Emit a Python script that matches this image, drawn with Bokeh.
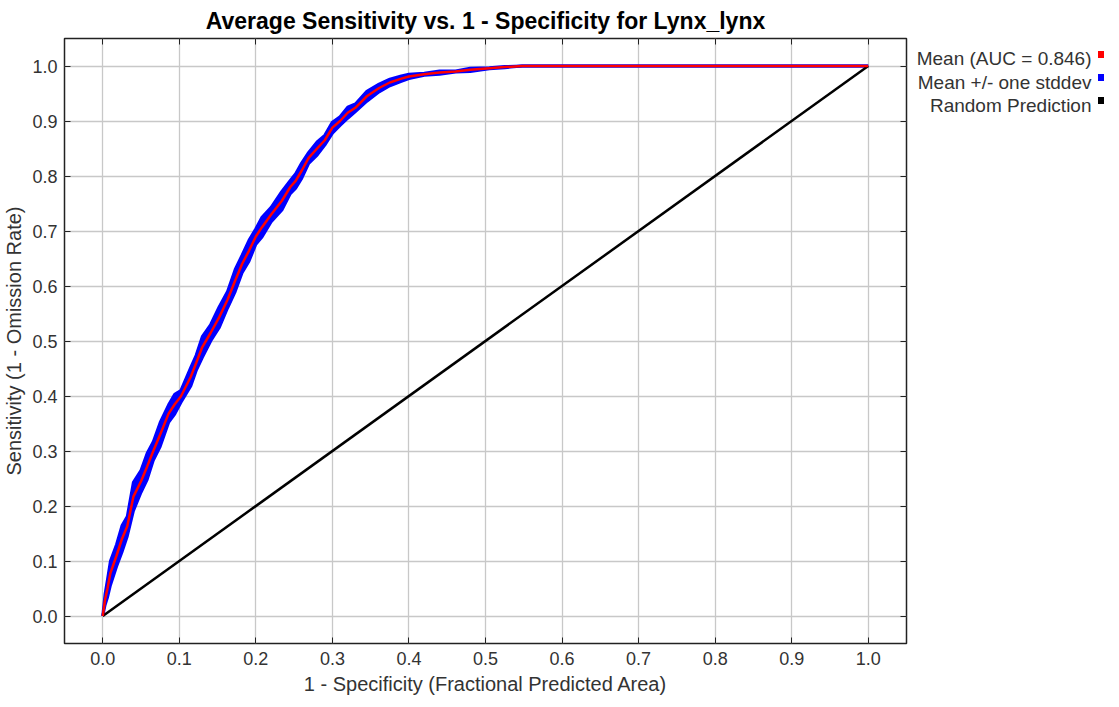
from bokeh.plotting import figure
from bokeh.models import Range1d, LinearAxis, FixedTicker, PrintfTickFormatter
from bokeh.layouts import row
from bokeh.embed import file_html
from bokeh.resources import INLINE
from bokeh.core.properties import value

# ---- data ----
fpr = [0.0, 0.003, 0.006, 0.010, 0.018, 0.025, 0.032, 0.040, 0.050, 0.058,
       0.066, 0.075, 0.086, 0.094, 0.102, 0.115, 0.122, 0.130, 0.141, 0.152,
       0.163, 0.173, 0.182, 0.191, 0.200, 0.208, 0.220, 0.234, 0.245, 0.252,
       0.260, 0.269, 0.280, 0.290, 0.300, 0.310, 0.320, 0.330, 0.345, 0.361,
       0.375, 0.390, 0.400, 0.420, 0.440, 0.461, 0.480, 0.505, 0.525, 0.548,
       0.600, 0.700, 0.800, 0.900, 1.000]
mean_tpr = [0.0, 0.030, 0.049, 0.078, 0.110, 0.140, 0.163, 0.217, 0.245, 0.272,
            0.300, 0.330, 0.368, 0.385, 0.399, 0.435, 0.460, 0.489, 0.515, 0.543,
            0.575, 0.610, 0.640, 0.664, 0.690, 0.707, 0.730, 0.755, 0.780, 0.791,
            0.810, 0.833, 0.850, 0.865, 0.888, 0.900, 0.915, 0.924, 0.945, 0.960,
            0.970, 0.977, 0.981, 0.985, 0.988, 0.990, 0.993, 0.996, 0.998, 1.000,
            1.000, 1.000, 1.000, 1.000, 1.000]
sd_tpr = [0.0, 0.010, 0.016, 0.022, 0.020, 0.024, 0.018, 0.026, 0.020, 0.024,
          0.017, 0.022, 0.016, 0.018, 0.011, 0.017, 0.014, 0.019, 0.015, 0.019,
          0.015, 0.020, 0.016, 0.019, 0.014, 0.018, 0.013, 0.017, 0.012, 0.013,
          0.014, 0.010, 0.012, 0.009, 0.010, 0.008, 0.010, 0.007, 0.009, 0.007,
          0.006, 0.005, 0.004, 0.002, 0.003, 0.001, 0.003, 0.001, 0.001, 0.0,
          0.0, 0.0, 0.0, 0.0, 0.0]
random_x = [0.0, 1.0]
random_y = [0.0, 1.0]
auc = 0.846
species = "Lynx_lynx"
ticks = [0.0, 0.1, 0.2, 0.3, 0.4, 0.5, 0.6, 0.7, 0.8, 0.9, 1.0]
legend_labels = ["Mean (AUC = %.3f)" % auc, "Mean +/- one stddev", "Random Prediction"]
legend_colors = ["#ff0000", "#0000ff", "#000000"]

upper = [m + s for m, s in zip(mean_tpr, sd_tpr)]
lower = [m - s for m, s in zip(mean_tpr, sd_tpr)]

FONT = "Liberation Sans"

p = figure(frame_width=842, frame_height=605,
           x_range=Range1d(-0.05, 1.05), y_range=Range1d(-0.05, 1.05),
           output_backend="svg", toolbar_location=None,
           min_border_left=60, min_border_top=30, min_border_right=2, min_border_bottom=0,
           title="Average Sensitivity vs. 1 - Specificity for " + species)
p.title.text_font = FONT
p.title.text_font_size = "23px"
p.title.text_font_style = "bold"
p.title.align = "center"
p.title.text_color = "#000000"
p.outline_line_color = "#222222"
p.outline_line_width = 1.5
p.background_fill_color = "white"
p.border_fill_color = "white"

for ax in (p.xaxis[0], p.yaxis[0]):
    ax.ticker = FixedTicker(ticks=ticks)
    ax.formatter = PrintfTickFormatter(format="%.1f")
    ax.major_label_text_font = FONT
    ax.major_label_text_font_size = "18px"
    ax.major_label_text_color = "#333333"
    ax.axis_label_text_font = FONT
    ax.axis_label_text_font_size = "20px"
    ax.axis_label_text_font_style = "normal"
    ax.axis_label_text_color = "#333333"
    ax.axis_line_color = None
    ax.major_tick_in = 6
    ax.major_tick_out = 0
    ax.major_tick_line_color = "#222222"
    ax.minor_tick_line_color = None
p.xaxis.axis_label = "1 - Specificity (Fractional Predicted Area)"
p.yaxis.axis_label = "Sensitivity (1 - Omission Rate)"
p.xaxis.major_label_standoff = 8
p.xaxis.axis_label_standoff = 5
p.yaxis.major_label_standoff = 7
p.yaxis.axis_label_standoff = 4

# tick marks (no labels) on the top and right edges of the frame
for loc in ("above", "right"):
    ax = LinearAxis(ticker=FixedTicker(ticks=ticks))
    ax.major_label_text_font_size = "1px"
    ax.major_label_text_color = None
    ax.major_label_standoff = 0
    ax.axis_line_color = None
    ax.major_tick_in = 6
    ax.major_tick_out = 0
    ax.major_tick_line_color = "#222222"
    ax.minor_tick_line_color = None
    p.add_layout(ax, loc)

p.xgrid.ticker = FixedTicker(ticks=ticks)
p.ygrid.ticker = FixedTicker(ticks=ticks)
p.grid.grid_line_color = "#c8c8c8"
p.grid.grid_line_width = 1.3

p.varea(x=fpr, y1=lower, y2=upper, fill_color="#0000ff")
p.line(fpr, upper, line_color="#0000ff", line_width=3)
p.line(fpr, lower, line_color="#0000ff", line_width=3)
p.line(random_x, random_y, line_color="#000000", line_width=2.5)
p.line(fpr, mean_tpr, line_color="#ff0000", line_width=2.5)

# ---- legend panel on the right (frame aligned with the main frame) ----
LW, LH = 196, 605
lg = figure(frame_width=LW, frame_height=LH, x_range=Range1d(0, LW), y_range=Range1d(LH, 0),
            output_backend="svg", toolbar_location=None,
            x_axis_location=None, y_axis_location=None,
            min_border=0)
lg.outline_line_color = None
lg.grid.visible = False
ty = [20, 44, 67]
sy = [16, 39, 62]
lg.text(x=[183] * 3, y=ty, text=legend_labels, text_align="right", text_baseline="middle",
        text_font=value(FONT), text_font_size="19px", text_color="#333333")
lg.scatter(x=[193] * 3, y=sy, marker="square", size=7, fill_color=legend_colors,
           line_color=None)

layout = row(p, lg)
open("out.html", "w").write(file_html(layout, INLINE))
